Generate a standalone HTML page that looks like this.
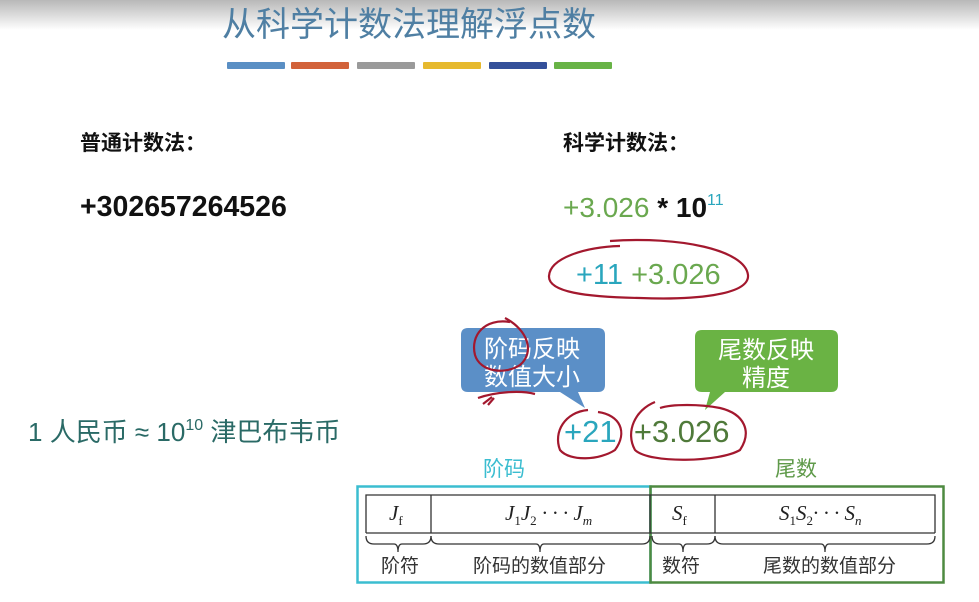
<!DOCTYPE html>
<html><head><meta charset="utf-8">
<style>
html,body{margin:0;padding:0}
body{width:979px;height:602px;position:relative;overflow:hidden;background:#fff;font-family:"Liberation Sans","Noto Sans CJK SC",sans-serif}
.a{position:absolute;white-space:nowrap;line-height:1}
.cjk{font-family:"Noto Sans CJK SC","WenQuanYi Zen Hei",sans-serif}
.serif{font-family:"Liberation Serif","Noto Serif CJK SC",serif}
.bar{position:absolute;top:62px;height:7px;width:58px;border-radius:1px}
</style></head><body>
<div style="position:absolute;left:0;top:0;width:979px;height:30px;background:linear-gradient(#b8b8b8,#fff)"></div>
<div class="a cjk" style="left:222px;top:5px;font-size:34px;color:#4f7fa3">从科学计数法理解浮点数</div>
<div class="bar" style="left:227px;background:#5a8fc4"></div>
<div class="bar" style="left:291px;background:#d2623a"></div>
<div class="bar" style="left:357px;background:#9a9a9a"></div>
<div class="bar" style="left:423px;background:#e6b92e"></div>
<div class="bar" style="left:489px;background:#34509a"></div>
<div class="bar" style="left:554px;background:#68b346"></div>

<div class="a cjk" style="left:80px;top:132px;font-size:21px;font-weight:bold;color:#111">普通计数法：</div>
<div class="a" style="left:80px;top:193px;font-size:28.5px;font-weight:bold;color:#111">+302657264526</div>
<div class="a cjk" style="left:563px;top:132px;font-size:21px;font-weight:bold;color:#111">科学计数法：</div>
<div class="a" style="left:563px;top:193px;font-size:28px;color:#111"><span style="color:#6aa84f">+3.026</span> <b>*</b> <b>10</b><sup style="font-size:16px;color:#2aa6bd;vertical-align:12px">11</sup></div>

<div class="a" style="left:576px;top:261px;font-size:29px"><span style="color:#2aa6bd">+11</span> <span style="color:#6aa84f">+3.026</span></div>

<svg style="position:absolute;left:0;top:0" width="979" height="602">
<path d="M468,328 H598 Q605,328 605,335 V385 Q605,392 598,392 H578 L585,408 L560,392 H468 Q461,392 461,385 V335 Q461,328 468,328Z" fill="#5b8fc7"/>
<path d="M702,330 H831 Q838,330 838,337 V385 Q838,392 831,392 H725 L705,410 L710,392 H702 Q695,392 695,385 V337 Q695,330 702,330Z" fill="#6ab344"/>
</svg>
<div class="a cjk" style="left:484px;top:333px;font-size:24px;color:#fff;line-height:28px;text-align:center">阶码反映<br>数值大小</div>
<div class="a cjk" style="left:718px;top:334px;font-size:24px;color:#fff;line-height:28px;text-align:center">尾数反映<br>精度</div>

<div class="a" style="left:564px;top:416px;font-size:31px"><span style="color:#2aa6bd">+21</span>&nbsp;&nbsp;<span style="color:#4f7a3a">+3.026</span></div>
<div class="a" style="left:28px;top:418px;font-size:26px;color:#2a6a66">1 <span class="cjk">人民币</span> ≈ 10<sup style="font-size:16px;vertical-align:11px">10</sup> <span class="cjk">津巴布韦币</span></div>

<svg style="position:absolute;left:0;top:0" width="979" height="602" fill="none" stroke="#a3182e" stroke-width="2.2">
<path d="M610,241 C680,236 745,250 748,275 C750,296 690,300 640,298 C585,297 548,292 549,276 C550,258 585,247 620,246"/>
<path d="M510,322 C485,318 470,335 475,355 C480,372 505,375 520,365 C535,352 528,330 505,318"/>
<path d="M478,398 C495,392 520,390 535,394"/>
<path d="M483,404 L492,397 M488,405 L494,398"/>
<path d="M588,410 C565,412 553,432 560,450 C570,462 600,460 615,450 C628,432 620,415 598,412"/>
<path d="M655,402 C635,410 625,432 635,450 C650,464 720,462 740,450 C752,432 745,414 720,408 C700,404 672,404 660,408"/>
</svg>

<div class="a cjk" style="left:483px;top:458px;font-size:21px;color:#3bbdd0">阶码</div>
<div class="a cjk" style="left:775px;top:458px;font-size:21px;color:#5f9a4a">尾数</div>

<svg style="position:absolute;left:0;top:0" width="979" height="602">
<rect x="357.5" y="486.5" width="293" height="96" fill="none" stroke="#3bbdd0" stroke-width="2.5"/>
<rect x="650.5" y="486.5" width="293" height="96" fill="none" stroke="#4e8a40" stroke-width="2.5"/>
<g fill="none" stroke="#333" stroke-width="1.3">
<path d="M366,533 V495 H935 V533"/>
<line x1="366" y1="533" x2="935" y2="533"/>
<line x1="431" y1="495" x2="431" y2="533"/>
<line x1="715" y1="495" x2="715" y2="533"/>
<path d="M366,536 Q366,544 374,544 H394 Q398,544 398,552 Q398,544 402,544 H423 Q431,544 431,536"/>
<path d="M431,536 Q431,544 439,544 H536 Q540,544 540,552 Q540,544 544,544 H642 Q650,544 650,536"/>
<path d="M652,536 Q652,544 660,544 H679 Q683,544 683,552 Q683,544 687,544 H707 Q715,544 715,536"/>
<path d="M715,536 Q715,544 723,544 H821 Q825,544 825,552 Q825,544 829,544 H927 Q935,544 935,536"/>
</g>
<line x1="650" y1="495" x2="650" y2="533" stroke="#333" stroke-width="1.3"/>
</svg>
<div class="a serif" style="left:389px;top:503px;font-size:21px;font-style:italic;color:#222">J<sub style="font-size:13px;font-style:normal">f</sub></div>
<div class="a serif" style="left:505px;top:503px;font-size:21px;font-style:italic;color:#222">J<sub style="font-size:13px;font-style:normal">1</sub>J<sub style="font-size:13px;font-style:normal">2</sub> · · · J<sub style="font-size:13px">m</sub></div>
<div class="a serif" style="left:672px;top:503px;font-size:21px;font-style:italic;color:#222">S<sub style="font-size:13px;font-style:normal">f</sub></div>
<div class="a serif" style="left:779px;top:503px;font-size:21px;font-style:italic;color:#222">S<sub style="font-size:13px;font-style:normal">1</sub>S<sub style="font-size:13px;font-style:normal">2</sub>· · · S<sub style="font-size:13px">n</sub></div>
<div class="a cjk" style="left:381px;top:555px;font-size:19px;color:#333">阶符</div>
<div class="a cjk" style="left:473px;top:555px;font-size:19px;color:#333">阶码的数值部分</div>
<div class="a cjk" style="left:662px;top:555px;font-size:19px;color:#333">数符</div>
<div class="a cjk" style="left:763px;top:555px;font-size:19px;color:#333">尾数的数值部分</div>
</body></html>
